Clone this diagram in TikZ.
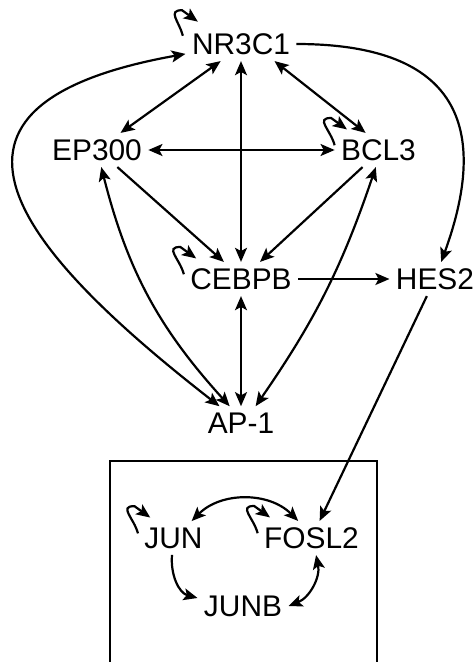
\documentclass[tikz,border=0pt]{standalone}
\usepackage{fontspec}
\setmainfont{Liberation Sans}
\usetikzlibrary{arrows.meta,positioning}

\begin{document}
\begin{tikzpicture}[
  gene/.style={font=\fontsize{17}{20}\selectfont, inner sep=3.5pt},
  link/.style={line width=1.25pt},
  sloop/.style={out=105, in=180, looseness=1.5},
  on grid,
  >={Stealth[length=8pt,width=6.8pt,inset=1.8pt]}
]
\useasboundingbox (0,0) rectangle (9.5,-13.24);
\node[gene] (nr) at (4.82,-0.88) {NR3C1};
\node[gene, below left=2.12cm and 2.88cm of nr]  (ep)  {EP300};
\node[gene, below right=2.12cm and 2.75cm of nr] (bcl) {BCL3};
\node[gene, below=4.7cm of nr]   (ceb) {CEBPB};
\node[gene, right=3.88cm of ceb] (hes) {HES2};
\node[gene, below=2.88cm of ceb] (ap)  {AP-1};
\node[gene, below left=2.3cm and 1.35cm of ap] (jun) {JUN};
\node[gene, right=2.76cm of jun] (fos) {FOSL2};
\node[gene, below right=1.36cm and 1.39cm of jun] (junb) {JUNB};
% box round the AP-1 members
\draw[link] (2.2,-9.22) rectangle (7.54,-13.6);
% self loops
\draw[link,->] ([shift={(-1.5pt,-5pt)}]nr.north west) to[sloop] ([shift={(-2pt,9.5pt)}]nr.north west) -- ([shift={(7pt,3pt)}]nr.north west);
\draw[link,->] ([yshift=-7pt]bcl.north west) to[sloop] ([shift={(-2pt,8.5pt)}]bcl.north west) -- ([shift={(7pt,2pt)}]bcl.north west);
\draw[link,->] ([yshift=-7pt]ceb.north west) to[sloop] ([shift={(-2pt,8.5pt)}]ceb.north west) -- ([shift={(7pt,2pt)}]ceb.north west);
\draw[link,->] ([yshift=-7pt]jun.north west) to[sloop] ([shift={(-2pt,8.5pt)}]jun.north west) -- ([shift={(7pt,2pt)}]jun.north west);
\draw[link,->] ([yshift=-7pt]fos.north west) to[sloop] ([shift={(-2pt,8.5pt)}]fos.north west) -- ([shift={(7pt,2pt)}]fos.north west);
% upper part
\draw[link,<->] (nr.220) -- (ep.36);
\draw[link,<->] (nr.333) -- (bcl.127);
\draw[link,<->] (nr) -- (ceb);
\draw[link,->] (nr) to[out=0, in=70, looseness=1.5] (hes);
\draw[link,<->] (ap) .. controls (0.3,-4.94) and (-2.0,-2.1) .. (nr);
\draw[link,<->] (ep) -- (bcl);
\draw[link,->] (ep.-40) -- (ceb.135);
\draw[link,->] (bcl.227) -- (ceb.42);
\draw[link,<->] (ep.284) to[bend right=14] (ap.124);
\draw[link,<->] (bcl.261) to[bend left=8] (ap.49);
\draw[link,<->] (ceb) -- (ap);
\draw[link,->] (ceb) -- (hes);
\draw[link,->] (hes) -- (fos);
% inside the box
\draw[link,<->] (jun.43) to[bend left=45] (fos.128);
\draw[link,->] (jun.265) to[out=-95, in=165] (junb.170);
\draw[link,<->] (fos.285) to[bend left=40] (junb.east);
\end{tikzpicture}
\end{document}
